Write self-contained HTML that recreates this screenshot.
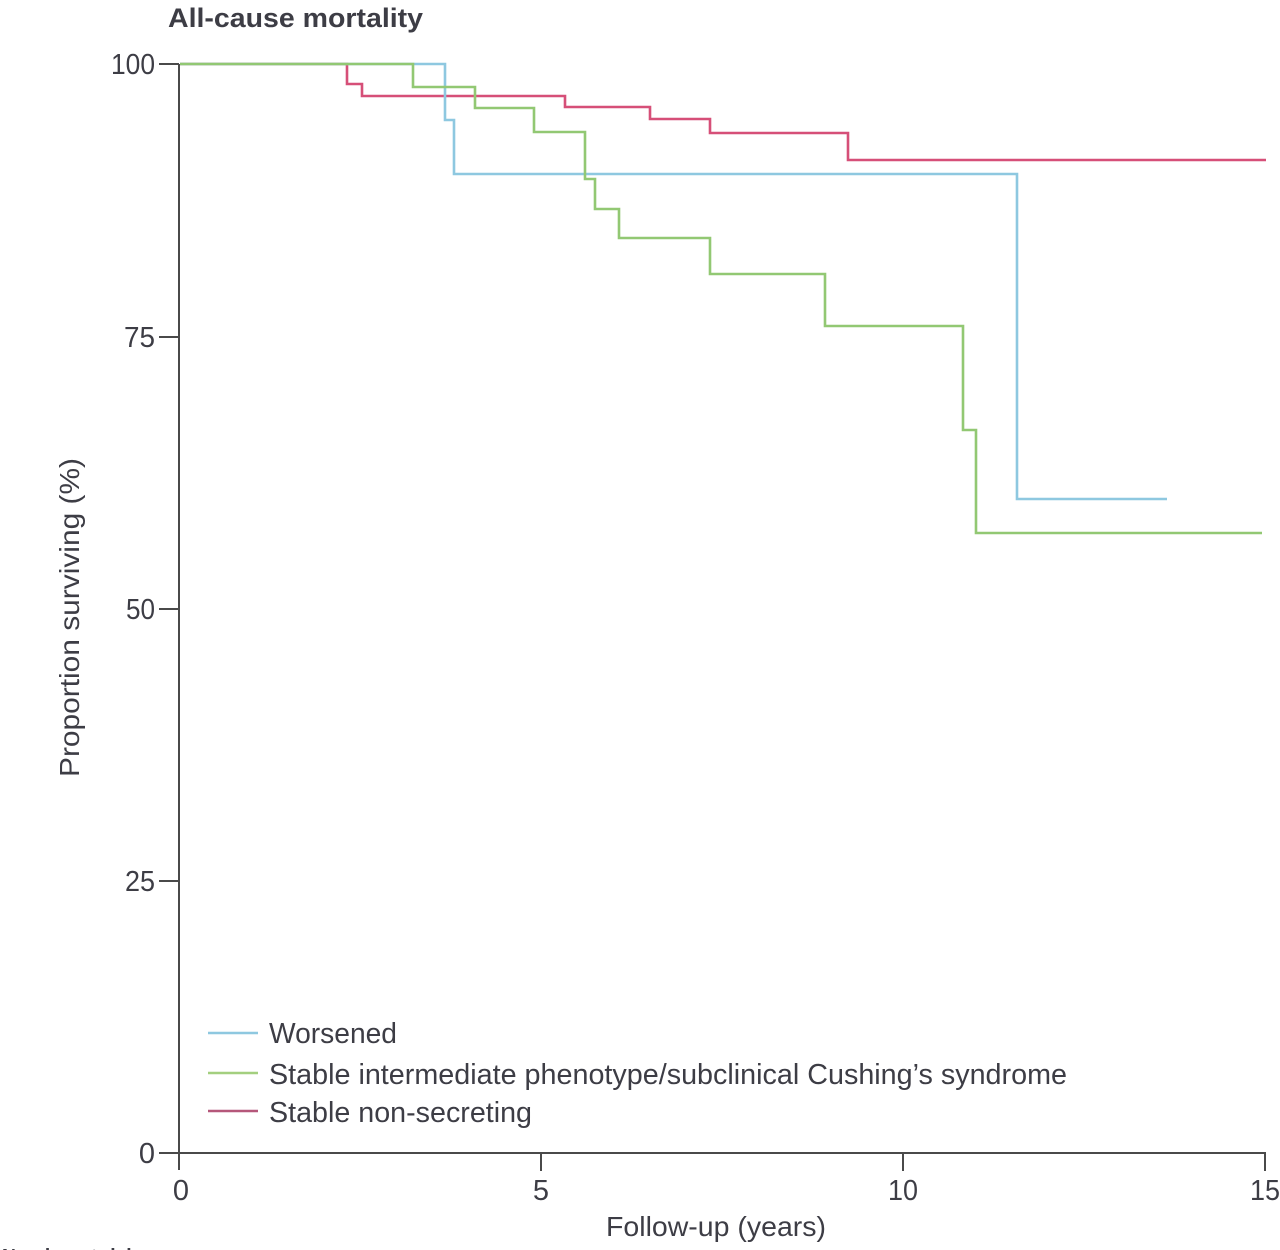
<!DOCTYPE html>
<html>
<head>
<meta charset="utf-8">
<style>
  html, body { margin: 0; padding: 0; background: #ffffff; }
  svg { display: block; }
  text { font-family: "Liberation Sans", sans-serif; fill: #3d3d45; }
</style>
</head>
<body>
<svg width="1280" height="1250" viewBox="0 0 1280 1250" xmlns="http://www.w3.org/2000/svg">
  <rect x="0" y="0" width="1280" height="1250" fill="#ffffff"/>

  <!-- Title -->
  <text x="168" y="27" font-size="27" font-weight="bold" textLength="255" lengthAdjust="spacingAndGlyphs">All-cause mortality</text>

  <!-- Axes -->
  <g stroke="#4a4a4a" stroke-width="2" fill="none">
    <line x1="179" y1="64" x2="179" y2="1170"/>
    <line x1="179" y1="1153" x2="1266" y2="1153"/>
    <!-- y ticks -->
    <line x1="159" y1="64" x2="179" y2="64"/>
    <line x1="159" y1="337" x2="179" y2="337"/>
    <line x1="159" y1="609" x2="179" y2="609"/>
    <line x1="159" y1="881" x2="179" y2="881"/>
    <line x1="159" y1="1153" x2="179" y2="1153"/>
    <!-- x ticks -->
    <line x1="541" y1="1153" x2="541" y2="1171"/>
    <line x1="903" y1="1153" x2="903" y2="1171"/>
    <line x1="1265" y1="1153" x2="1265" y2="1171"/>
  </g>

  <!-- Y tick labels -->
  <g font-size="29" text-anchor="end">
    <text x="155" y="74" textLength="44" lengthAdjust="spacingAndGlyphs">100</text>
    <text x="155" y="347" textLength="31" lengthAdjust="spacingAndGlyphs">75</text>
    <text x="155" y="619" textLength="29" lengthAdjust="spacingAndGlyphs">50</text>
    <text x="155" y="891" textLength="30" lengthAdjust="spacingAndGlyphs">25</text>
    <text x="155" y="1163">0</text>
  </g>

  <!-- X tick labels -->
  <g font-size="29" text-anchor="middle">
    <text x="181" y="1200">0</text>
    <text x="541" y="1200">5</text>
    <text x="903" y="1200" textLength="30" lengthAdjust="spacingAndGlyphs">10</text>
    <text x="1265" y="1200" textLength="30" lengthAdjust="spacingAndGlyphs">15</text>
  </g>

  <!-- Axis titles -->
  <text x="606" y="1236" font-size="28" textLength="220" lengthAdjust="spacingAndGlyphs">Follow-up (years)</text>
  <text transform="translate(79,777) rotate(-90)" x="0" y="0" font-size="28" textLength="319" lengthAdjust="spacingAndGlyphs">Proportion surviving (%)</text>

  <!-- Curves -->
  <g fill="none" stroke-width="2.6" stroke-linejoin="miter" stroke-linecap="butt">
    <path stroke="#d64f78" d="M180,64 H347 V84 H362 V96 H565 V107 H650 V119 H710 V133 H848 V160 H1266"/>
    <path stroke="#8ec8e0" d="M180,64 H445 V120 H454 V174 H1017 V499 H1167"/>
    <path stroke="#92c873" d="M180,64 H413 V87 H475 V108 H534 V132 H585 V179 H595 V209 H619 V238 H710 V274 H825 V326 H963 V430 H976 V533 H1262"/>
  </g>

  <!-- Legend -->
  <g stroke-width="2.4">
    <line x1="208" y1="1033" x2="258" y2="1033" stroke="#8ec8e0"/>
    <line x1="208" y1="1073" x2="258" y2="1073" stroke="#a3cf7f"/>
    <line x1="208" y1="1111" x2="258" y2="1111" stroke="#b5577a"/>
  </g>
  <g font-size="29">
    <text x="269" y="1043" textLength="128" lengthAdjust="spacingAndGlyphs">Worsened</text>
    <text x="269" y="1084" textLength="798" lengthAdjust="spacingAndGlyphs">Stable intermediate phenotype/subclinical Cushing’s syndrome</text>
    <text x="269" y="1122" textLength="263" lengthAdjust="spacingAndGlyphs">Stable non-secreting</text>
  </g>

  <!-- Cut-off text at bottom -->
  <text x="2" y="1268" font-size="28" font-weight="bold" textLength="135" lengthAdjust="spacingAndGlyphs">Number at risk</text>
</svg>
</body>
</html>
